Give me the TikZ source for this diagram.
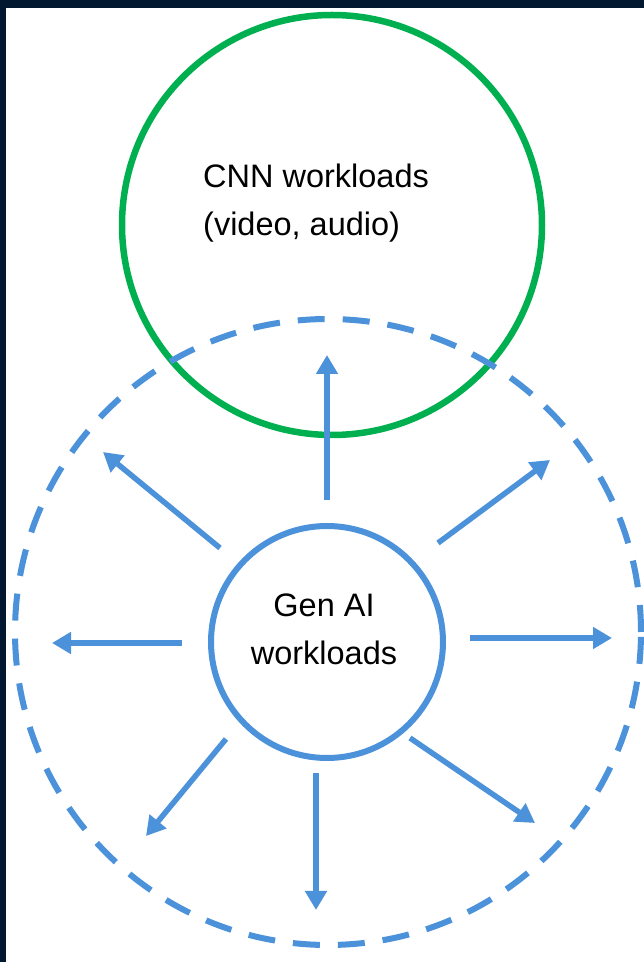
\documentclass[tikz,border=0pt]{standalone}
\usepackage{fontspec}
\setmainfont{Liberation Sans}
\definecolor{framenavy}{RGB}{2, 24, 48}
\definecolor{cnngreen}{RGB}{0, 176, 80}
\definecolor{genblue}{RGB}{76, 146, 218}
\usetikzlibrary{arrows.meta, calc}
\tikzset{
  spoke/.style={draw=genblue, line width=5.5pt, -{Triangle[length=19pt, width=21pt]}},
  bigtext/.style={font=\fontsize{32.5}{48}\selectfont, inner sep=0pt}
}

\begin{document}
\begin{tikzpicture}[x=1pt, y=1pt]
  % Page and dark frame
  \useasboundingbox (0, 0) rectangle (644, 962);
  \fill[framenavy] (0, 0) rectangle (644, 962);
  \fill[white] (6, 0) rectangle (644, 954);

  % CNN workloads
  \node[circle, draw=cnngreen, line width=6.5pt, minimum size=420pt] (cnn) at (332, 737) {};
  \node[bigtext, align=left, anchor=west] (cnntext) at (203, 759) {CNN workloads\\(video, audio)};

  % Reach of Gen AI
  \node[circle, draw=genblue, line width=6pt, dash pattern=on 27pt off 18pt, minimum size=626pt] (reach) at (328, 330) {};

  % Gen AI workloads
  \node[circle, draw=genblue, line width=6pt, fill=white, minimum size=232pt] (genai) at (327, 320) {};
  \node[bigtext, align=center] (gentext) at (324, 333) {Gen AI\\workloads};

  % Arrows out of Gen AI
  \foreach \sx/\sy/\ex/\ey in {0/142/0/287, -107/94/-224/190, 111/99/223/182, -145/-1/-275/-1,
                               143/4/285/4, -101/-97/-181/-194, -11/-131/-11/-268, 83/-96/208/-181}
    \draw[spoke] ($(genai.center)+(\sx, \sy)$) -- ($(genai.center)+(\ex, \ey)$);
\end{tikzpicture}
\end{document}
